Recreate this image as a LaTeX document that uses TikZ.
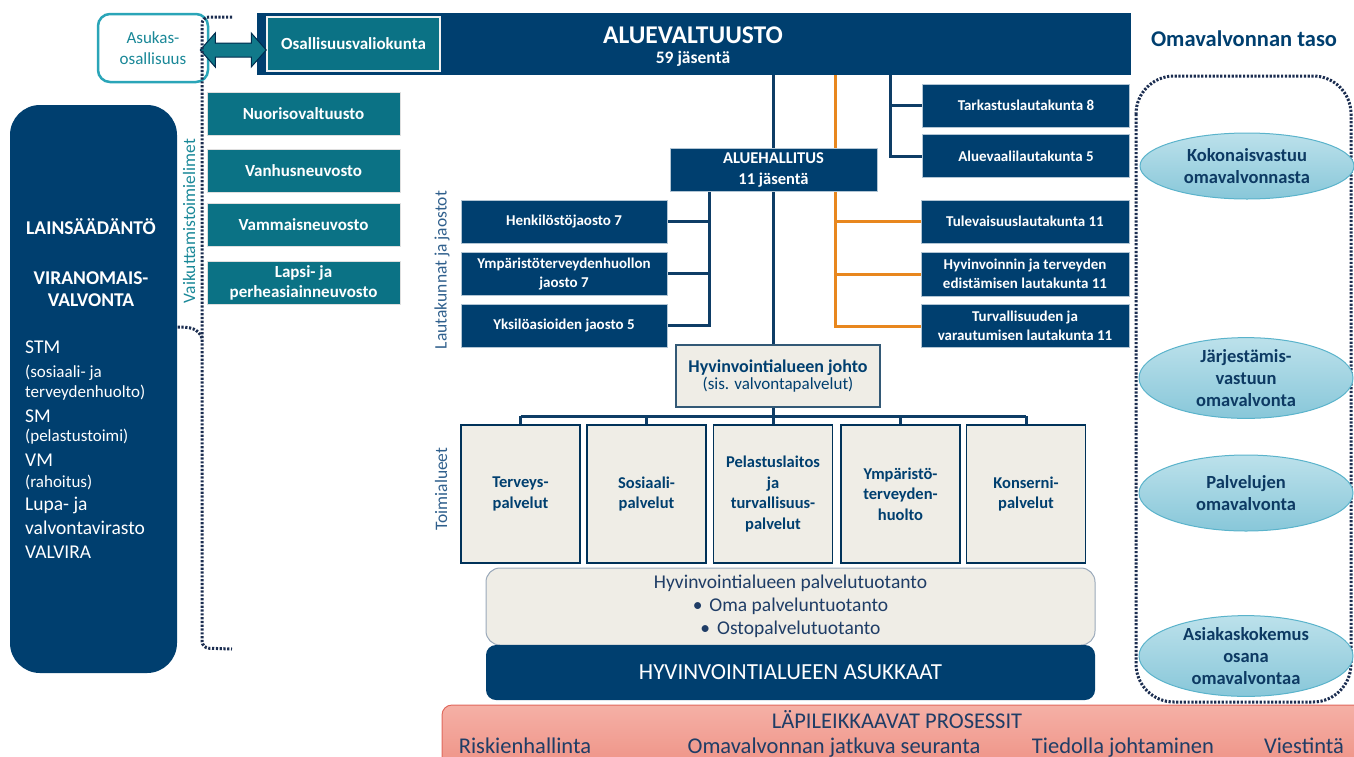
\documentclass[tikz,border=0pt]{standalone}
\usepackage{fontspec}
\setmainfont{Carlito}
\usetikzlibrary{shapes.geometric,backgrounds,calc}
\definecolor{navy}{HTML}{003F6F}
\definecolor{navyline}{HTML}{0E3D66}
\definecolor{tealA}{HTML}{0B7285}
\definecolor{tealB}{HTML}{11798A}
\definecolor{tealborder}{HTML}{2AA5B8}
\definecolor{tealtext}{HTML}{1A8898}
\definecolor{cream}{HTML}{EFEDE6}
\definecolor{palvline}{HTML}{9AA9BA}
\definecolor{orangeA}{HTML}{E8871E}
\definecolor{dotc}{HTML}{1B2D50}
\definecolor{ovaltop}{HTML}{BCE1EB}
\definecolor{ovalbot}{HTML}{88C7D9}
\definecolor{ovalline}{HTML}{5AB3CB}
\definecolor{ovaltext}{HTML}{0D3A63}
\definecolor{salmontop}{HTML}{F5B0A6}
\definecolor{salmonbot}{HTML}{EE9184}
\definecolor{salmonline}{HTML}{E0695D}
\definecolor{sidetext}{HTML}{2F5F8C}
\definecolor{textnavy}{HTML}{1F3D66}
\newcommand\fsz[2]{\fontsize{#1}{#2}\selectfont}
\begin{document}
\begin{tikzpicture}[x=1pt,y=-1pt,
  navybox/.style={fill=navy, draw=white!70!navy, line width=0.8pt, text=white, font=\fsz{15}{19}\bfseries, align=center, inner sep=1pt, minimum height=43pt},
  tealbox/.style={fill=tealA, draw=white!75!gray, line width=0.8pt, text=white, font=\fsz{17}{20}\bfseries, align=center, inner sep=1pt, minimum width=193pt, minimum height=43pt},
  servbox/.style={fill=cream, draw=navy!80!black, line width=1.2pt, text=navy, font=\fsz{16.5}{20.5}\bfseries, align=center, inner sep=1pt, minimum width=119pt, minimum height=138pt},
  oval/.style={ellipse, top color=ovaltop, bottom color=ovalbot, draw=ovalline, line width=1pt, text=ovaltext, font=\fsz{18.5}{22}\bfseries, align=center, inner sep=0pt, minimum width=214pt},
  vline/.style={draw=navyline, line width=3pt},
  oline/.style={draw=orangeA, line width=3pt},
  dotline/.style={draw=dotc, line width=3pt, dash pattern=on 2.2pt off 1.6pt},
  sidelabel/.style={rotate=90, font=\fsz{17.5}{20}, inner sep=0pt},
  proc/.style={text=textnavy, font=\fsz{22.5}{26}, anchor=base, inner sep=0pt}
]
\useasboundingbox (0,0) rectangle (1354,756);

% ---- top row
\node[draw=tealborder, line width=2.5pt, rounded corners=12pt, fill=white, minimum width=110pt, minimum height=68pt, text=tealtext, font=\fsz{17}{21}, align=center] (asuk) at (153,48) {Asukas-\\osallisuus};
\node[fill=navy, minimum width=874pt, minimum height=62pt, inner sep=0pt] (valt) at (694,44) {};
\node[text=white, font=\fsz{25.5}{28}\bfseries, inner sep=0pt] (valtA) at (693,35) {ALUEVALTUUSTO};
\node[text=white, font=\fsz{17.5}{20}\bfseries, inner sep=0pt] (valtB) at (693,59) {59 jäsentä};
\node[fill=tealA, draw=white!90!gray, line width=1.5pt, minimum width=173pt, minimum height=54pt, text=white, font=\fsz{17}{20}\bfseries] (osal) at (353.5,44) {Osallisuusvaliokunta};
\node[text=navy, font=\fsz{22.5}{26}\bfseries] (taso) at (1244,39) {Omavalvonnan taso};

% double arrow between Asukasosallisuus and Osallisuusvaliokunta
\draw[fill=tealB, draw=navy!70!black, line width=1pt] ([xshift=-9pt,yshift=-2pt]asuk.east) -- ++(15,-17) -- ++(0,10) -- ++(36,0) -- ++(0,-10) -- ++(15,17) -- ++(-15,17) -- ++(0,-10) -- ++(-36,0) -- ++(0,10) -- cycle;

% ---- vaikuttamistoimielimet
\node[tealbox] (nuor) at (303.5,114) {Nuorisovaltuusto};
\node[tealbox] (vanh) at (303.5,171) {Vanhusneuvosto};
\node[tealbox] (vamm) at (303.5,225) {Vammaisneuvosto};
\node[tealbox] (laps) at (303.5,283) {Lapsi- ja\\perheasiainneuvosto};
\node[sidelabel, text=tealtext] (vaik) at (189,221) {Vaikuttamistoimielimet};

% left bracket (dotted)
\draw[dotline, rounded corners=7pt] (232,17) -- (202,17) -- (202,648) -- (232,649);
\draw[dotline] (202,338) .. controls (198,328) and (190,327) .. (177,327);

% ---- legislation box
\node[fill=navy, rounded corners=30pt, minimum width=167pt, minimum height=568pt] (lain) at (93.5,389) {};
\node[text=white, font=\fsz{19.5}{22}\bfseries] (lainA) at (91,227) {LAINSÄÄDÄNTÖ};
\node[text=white, font=\fsz{19.5}{22}\bfseries, align=center] (lainB) at (91,289) {VIRANOMAIS-\\VALVONTA};
\foreach \yy/\txt/\ss [count=\i] in {347/STM/19.5, 373/{(sosiaali- ja}/17, 393/{terveydenhuolto)}/17, 416/SM/19.5, 437/{(pelastustoimi)}/17, 460/VM/19.5, 482/{(rahoitus)}/17, 505/{Lupa- ja}/19.5, 528/valvontavirasto/19.5, 552/VALVIRA/19.5}
  \node[anchor=west, text=white, font=\fsz{\ss}{20}, inner sep=0pt] (lt\i) at (25,\yy) {\txt};

% ---- boards
\node[navybox, minimum width=207pt] (tark) at (1026,105.5) {Tarkastuslautakunta 8};
\node[navybox, minimum width=207pt] (alva) at (1026,156) {Aluevaalilautakunta 5};
\node[navybox, minimum width=207pt, font=\fsz{16.5}{21}\bfseries] (hall) at (773.5,169.5) {ALUEHALLITUS\\11 jäsentä};
\node[navybox, minimum width=206pt] (henk) at (564,221.5) {Henkilöstöjaosto 7};
\node[navybox, minimum width=206pt] (ymp) at (564,273.5) {Ympäristöterveydenhuollon\\jaosto 7};
\node[navybox, minimum width=206pt] (yks) at (564,325.5) {Yksilöasioiden jaosto 5};
\node[navybox, minimum width=208pt] (tule) at (1025,221.5) {Tulevaisuuslautakunta 11};
\node[navybox, minimum width=208pt, minimum height=44pt] (hyvi) at (1025,274) {Hyvinvoinnin ja terveyden\\edistämisen lautakunta 11};
\node[navybox, minimum width=208pt] (turv) at (1025,325.5) {Turvallisuuden ja\\varautumisen lautakunta 11};
\node[sidelabel, text=sidetext] (lauta) at (442,270) {Lautakunnat ja jaostot};

% ---- management
\node[fill=cream, draw=navy!60!gray, line width=1.2pt, minimum width=204pt, minimum height=62pt, text=navy, align=center, inner sep=1pt] (johto) at (778,376) {{\fsz{18}{23}\bfseries Hyvinvointialueen johto}\\{\fsz{17}{23}(sis. valvontapalvelut)}};

% ---- service areas
\node[servbox] (s1) at (520.5,494) {Terveys-\\palvelut};
\node[servbox] (s2) at (646.5,494) {Sosiaali-\\palvelut};
\node[servbox] (s3) at (773,494) {Pelastuslaitos\\ja\\turvallisuus-\\palvelut};
\node[servbox] (s4) at (900.5,494) {Ympäristö-\\terveyden-\\huolto};
\node[servbox] (s5) at (1026,494) {Konserni-\\palvelut};
\node[sidelabel, text=sidetext] (toim) at (441,489) {Toimialueet};

% ---- production and residents
\node[fill=cream, draw=palvline, line width=1pt, rounded corners=14pt, minimum width=609pt, minimum height=77pt, text=textnavy, font=\fsz{19.5}{23}, align=center, inner sep=0pt] (palv) at (790.5,606.5) {Hyvinvointialueen palvelutuotanto\\•\hspace{7pt}Oma palveluntuotanto\\•\hspace{7pt}Ostopalvelutuotanto};
\node[fill=navy, rounded corners=10pt, minimum width=609pt, minimum height=55pt, text=white, font=\fsz{23}{26}] (asukk) at (790.5,672.5) {HYVINVOINTIALUEEN ASUKKAAT};

% ---- cross-cutting processes
\node[top color=salmontop, bottom color=salmonbot, draw=salmonline, line width=1pt, rounded corners=10pt, minimum width=925pt, minimum height=66pt] (lapi) at (904.5,738) {};
\node[proc] (lapiT) at (897,728) {LÄPILEIKKAAVAT PROSESSIT};
\node[proc] (p1) at (525,753) {Riskienhallinta};
\node[proc] (p2) at (834,753) {Omavalvonnan jatkuva seuranta};
\node[proc] (p3) at (1123,753) {Tiedolla johtaminen};
\node[proc] (p4) at (1304,753) {Viestintä};

% ---- self-monitoring levels
\draw[dotline, rounded corners=38pt] (1136,76) rectangle (1351,702);
\node[oval, minimum height=66pt] (o1) at (1247,166) {Kokonaisvastuu\\omavalvonnasta};
\node[oval, minimum height=70pt] (o2) at (1246,378) {Järjestämis-\\vastuun\\omavalvonta};
\node[oval, minimum height=76pt] (o3) at (1246,493) {Palvelujen\\omavalvonta};
\node[oval, minimum height=78pt] (o4) at (1246,656) {Asiakaskokemus\\osana\\omavalvontaa};

% ---- connectors
\coordinate (oj) at (835,326);
\coordinate (rj) at (890,0);
\coordinate (lj) at (709,0);
\coordinate (tb) at (773,416);
\begin{scope}[on background layer]
  \draw[vline] (valt.south -| hall.center) -- (johto.north -| hall.center);
  \draw[vline] (johto.south -| tb) -- (tb);
  \draw[vline] (s1.north |- tb) -- (s5.north |- tb);
  \foreach \s in {s1,s2,s3,s4,s5} \draw[vline] (\s.north |- tb) -- (\s.north);
  \draw[vline] (valt.south -| rj) -- (alva.west -| rj) -- (alva.west);
  \draw[vline] (tark.west -| rj) -- (tark.west);
  \draw[vline] (hall.south -| lj) -- (yks.east -| lj) -- (yks.east);
  \draw[vline] (henk.east -| lj) -- (henk.east);
  \draw[vline] (ymp.east -| lj) -- (ymp.east);
  \draw[oline] (valt.south -| oj) -- (oj) -- (turv.west |- oj);
  \draw[oline] (tule.west -| oj) -- (tule.west);
  \draw[oline] (hyvi.west -| oj) -- (hyvi.west);
\end{scope}
\end{tikzpicture}
\end{document}
